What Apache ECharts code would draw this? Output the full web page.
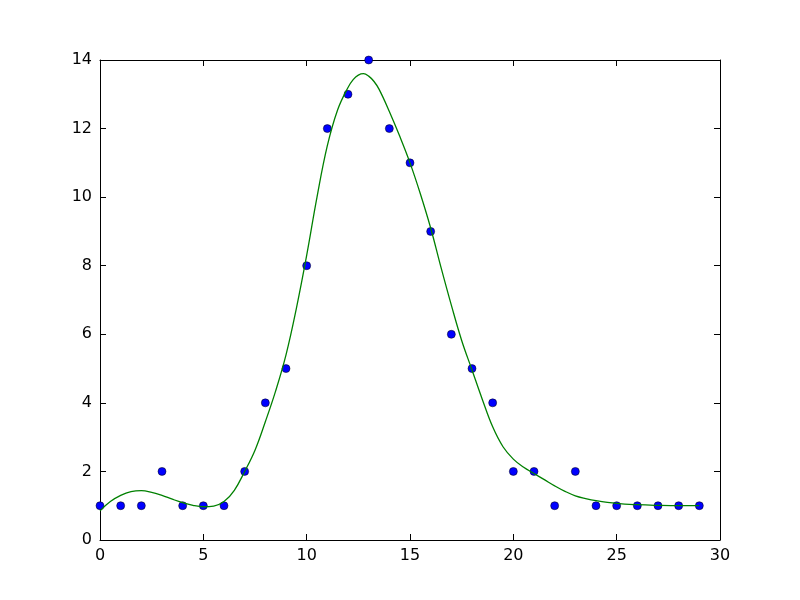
<!DOCTYPE html>
<html>
<head>
<meta charset="utf-8">
<script src="https://cdn.jsdelivr.net/npm/echarts@6/dist/echarts.min.js"></script>
<style>html,body{margin:0;padding:0;background:#fff}#c{width:800px;height:600px}</style>
</head>
<body>
<div id="c"></div>
<script>
var xTicks = [0, 5, 10, 15, 20, 25, 30];
var yTicks = [0, 2, 4, 6, 8, 10, 12, 14];
var pointX = [0,1,2,3,4,5,6,7,8,9,10,11,12,13,14,15,16,17,18,19,20,21,22,23,24,25,26,27,28,29];
var pointY = [1,1,1,2,1,1,1,2,4,5,8,12,13,14,12,11,9,6,5,4,2,2,1,2,1,1,1,1,1,1];
var fitX = [0,0.5,1,1.5,2,2.5,3,3.5,4,4.5,5,5.5,6,6.5,7,7.5,8,8.5,9,9.5,10,10.5,11,11.5,12,12.25,12.5,12.75,13,13.25,13.5,14,14.5,15,15.5,16,16.5,17,17.5,18,18.5,19,19.5,20,20.5,21,21.5,22,22.5,23,23.5,24,25,26,27,28,29];
var fitY = [0.85,1.12,1.3,1.41,1.44,1.39,1.3,1.19,1.09,1.01,0.97,0.99,1.12,1.45,2.0,2.62,3.45,4.35,5.4,6.75,8.3,10.0,11.5,12.55,13.2,13.43,13.56,13.6,13.53,13.38,13.15,12.5,11.78,11.0,10.1,9.1,7.95,6.85,5.82,4.96,4.1,3.3,2.72,2.36,2.12,1.94,1.76,1.58,1.42,1.29,1.21,1.15,1.07,1.03,1.01,1.0,1.0];

var points = pointX.map(function (x, i) { return [x, pointY[i]]; });
var fit = fitX.map(function (x, i) { return [x, fitY[i]]; });

var chart = echarts.init(document.getElementById('c'), null, {renderer: 'canvas'});
var font = {fontFamily: 'DejaVu Sans', fontSize: 16, color: '#000'};
function axisBase(showLabel) {
  return {
    axisLine: {show: true, onZero: false, lineStyle: {color: '#000', width: 1}},
    axisTick: {show: true, inside: true, length: 6, lineStyle: {color: '#000', width: 1}},
    axisLabel: Object.assign({show: showLabel}, font),
    splitLine: {show: false}
  };
}
var xb = axisBase(true), xt = axisBase(false), yl = axisBase(true), yr = axisBase(false);
var option = {
  animation: false,
  backgroundColor: '#fff',
  grid: {left: 100, right: 80, top: 60, bottom: 60, containLabel: false},
  xAxis: [
    Object.assign(xb, {type: 'value', position: 'bottom', min: xTicks[0], max: xTicks[xTicks.length - 1], interval: 5}),
    Object.assign(xt, {type: 'value', position: 'top', min: xTicks[0], max: xTicks[xTicks.length - 1], interval: 5})
  ],
  yAxis: [
    Object.assign(yl, {type: 'value', position: 'left', min: yTicks[0], max: yTicks[yTicks.length - 1], interval: 2}),
    Object.assign(yr, {type: 'value', position: 'right', min: yTicks[0], max: yTicks[yTicks.length - 1], interval: 2})
  ],
  series: [
    {
      type: 'scatter', data: points, xAxisIndex: 0, yAxisIndex: 0,
      symbol: 'circle', symbolSize: 8, z: 2,
      itemStyle: {color: '#0000ff', borderColor: '#000', borderWidth: 0.5, opacity: 1}
    },
    {
      type: 'line', data: fit, xAxisIndex: 0, yAxisIndex: 0,
      showSymbol: false, smooth: 0.4, z: 3,
      lineStyle: {color: '#008000', width: 1.3}
    }
  ]
};
chart.setOption(option);
</script>
</body>
</html>
